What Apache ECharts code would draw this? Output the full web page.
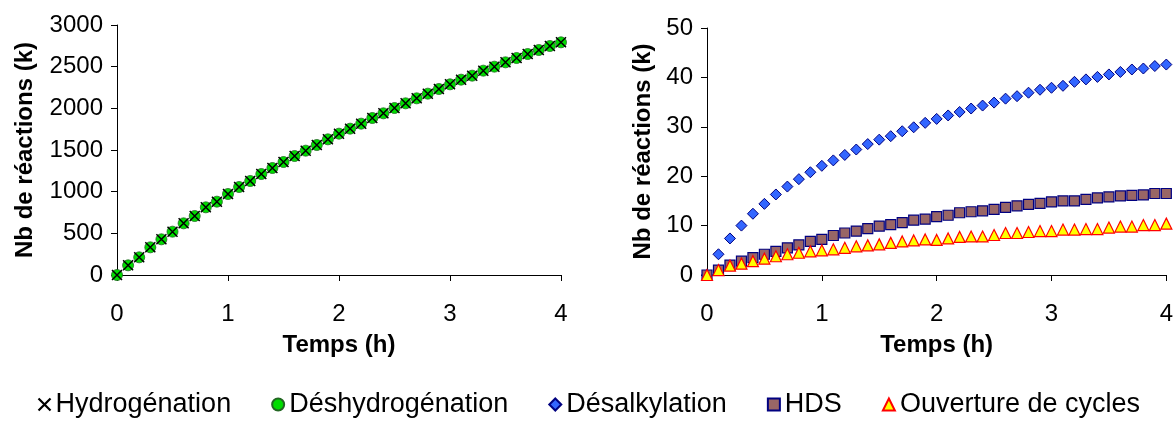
<!DOCTYPE html>
<html><head><meta charset="utf-8">
<script src="https://cdn.jsdelivr.net/npm/echarts@6/dist/echarts.min.js"></script>
<style>html,body{margin:0;padding:0;background:#fff}#c{width:1176px;height:423px}</style>
</head><body><div id="c"></div>
<script>
const times = [0,0.1,0.2,0.3,0.4,0.5,0.6,0.7,0.8,0.9,1,1.1,1.2,1.3,1.4,1.5,1.6,1.7,1.8,1.9,2,2.1,2.2,2.3,2.4,2.5,2.6,2.7,2.8,2.9,3,3.1,3.2,3.3,3.4,3.5,3.6,3.7,3.8,3.9,4];
const hydrogenation = [0,116,212,332,428,520,620,708,812,880,972,1056,1128,1212,1284,1356,1428,1492,1560,1628,1696,1756,1816,1884,1940,2004,2060,2120,2176,2232,2288,2344,2392,2452,2500,2552,2604,2652,2700,2748,2792];
const deshydrogenation = [0,116,212,332,428,520,620,708,812,880,972,1056,1128,1212,1284,1356,1428,1492,1560,1628,1696,1756,1816,1884,1940,2004,2060,2120,2176,2232,2288,2344,2392,2452,2500,2552,2604,2652,2700,2748,2792];
const desalkylation = [0,4.2,7.4,10.0,12.4,14.4,16.3,17.9,19.4,20.8,22.1,23.2,24.3,25.4,26.5,27.4,28.1,29.1,29.9,30.8,31.6,32.3,33.0,33.7,34.3,34.9,35.7,36.2,36.9,37.5,37.9,38.3,39.1,39.6,40.1,40.6,41.1,41.6,41.8,42.3,42.6];
const hds = [0,1.0,2.0,2.8,3.5,4.2,4.8,5.5,6.1,6.8,7.2,8.0,8.5,8.9,9.4,9.9,10.2,10.6,11.1,11.3,11.8,12.1,12.6,12.8,13.0,13.3,13.7,14.0,14.3,14.5,14.8,15.0,15.0,15.3,15.6,15.8,16.0,16.1,16.2,16.5,16.5];
const ouverture = [0,1.0,1.9,2.3,2.8,3.3,3.8,4.2,4.5,4.8,5.0,5.2,5.5,5.8,6.0,6.2,6.5,6.8,7.0,7.2,7.1,7.4,7.7,7.8,7.8,8.1,8.5,8.5,8.7,8.9,8.9,9.2,9.2,9.3,9.3,9.6,9.8,9.8,10.1,10.1,10.4];
const seriesNames = ['Hydrogénation','Déshydrogénation','Désalkylation','HDS','Ouverture de cycles'];
const xName = 'Temps (h)';
const yName = 'Nb de réactions (k)';

const pairs = (ys) => times.map((t,i)=>[t, ys[i]]);
const FONT = 'Liberation Sans, Arial, sans-serif';
const crossPath = 'path://M0,0L10,10M10,0L0,10';

function xAxis(gi){
  return {gridIndex:gi,type:'value',min:0,max:4,interval:1,name:xName,nameLocation:'middle',nameGap:58,
    nameTextStyle:{fontFamily:FONT,fontSize:24,fontWeight:'bold',color:'#000'},
    axisLine:{show:true,onZero:false,lineStyle:{color:'#000',width:1}},
    axisTick:{show:true,length:6,inside:false,lineStyle:{color:'#000'}},
    axisLabel:{fontFamily:FONT,fontSize:24,color:'#000',margin:27,formatter:(v)=>String(v)},
    splitLine:{show:false}};
}
function yAxis(gi,max,interval,gap){
  return {gridIndex:gi,type:'value',min:0,max:max,interval:interval,name:yName,nameLocation:'middle',nameGap:gap,nameRotate:90,
    nameTextStyle:{fontFamily:FONT,fontSize:24,fontWeight:'bold',color:'#000'},
    axisLine:{show:true,lineStyle:{color:'#000',width:1}},
    axisTick:{show:true,length:6,lineStyle:{color:'#000'}},
    axisLabel:{fontFamily:FONT,fontSize:24,color:'#000',margin:14,formatter:(v)=>String(v)},
    splitLine:{show:false}};
}

const chart = echarts.init(document.getElementById('c'),null,{renderer:'canvas'});
chart.setOption({
  animation:false,
  backgroundColor:'#fff',
  grid:[{left:117,right:615,top:25,bottom:148},{left:707,right:8,top:28,bottom:148}],
  xAxis:[xAxis(0),xAxis(1)],
  yAxis:[yAxis(0,3000,500,80),yAxis(1,50,10,52)],
  legend:{bottom:0,left:'center',itemGap:40,itemWidth:12,itemHeight:12,
    textStyle:{fontFamily:FONT,fontSize:27,color:'#000',padding:[0,0,0,0]},
    data:[
      {name:seriesNames[0],icon:crossPath,itemStyle:{color:'none',borderColor:'#000',borderWidth:2.2}},
      {name:seriesNames[1],icon:'circle'},
      {name:seriesNames[2],icon:'diamond'},
      {name:seriesNames[3],icon:'rect'},
      {name:seriesNames[4],icon:'triangle'}
    ]},
  series:[
    {name:seriesNames[1],type:'scatter',xAxisIndex:0,yAxisIndex:0,symbol:'circle',symbolSize:11,
      itemStyle:{color:'#00dd00',borderColor:'#226622',borderWidth:0.8,opacity:1},data:pairs(deshydrogenation),z:2},
    {name:seriesNames[0],type:'scatter',xAxisIndex:0,yAxisIndex:0,symbol:crossPath,symbolSize:10,
      itemStyle:{color:'none',borderColor:'#000',borderWidth:1.5,opacity:1},data:pairs(hydrogenation),z:3},
    {name:seriesNames[2],type:'scatter',xAxisIndex:1,yAxisIndex:1,symbol:'diamond',symbolSize:[11,11],
      itemStyle:{color:'#3366ff',borderColor:'#000080',borderWidth:1,opacity:1},data:pairs(desalkylation)},
    {name:seriesNames[3],type:'scatter',xAxisIndex:1,yAxisIndex:1,symbol:'rect',symbolSize:10,
      itemStyle:{color:'#996666',borderColor:'#000080',borderWidth:1.2,opacity:1},data:pairs(hds)},
    {name:seriesNames[4],type:'scatter',xAxisIndex:1,yAxisIndex:1,symbol:'triangle',symbolSize:11,
      itemStyle:{color:'#ffff00',borderColor:'#ff0000',borderWidth:1.2,opacity:1},data:pairs(ouverture)}
  ]
});
</script></body></html>
